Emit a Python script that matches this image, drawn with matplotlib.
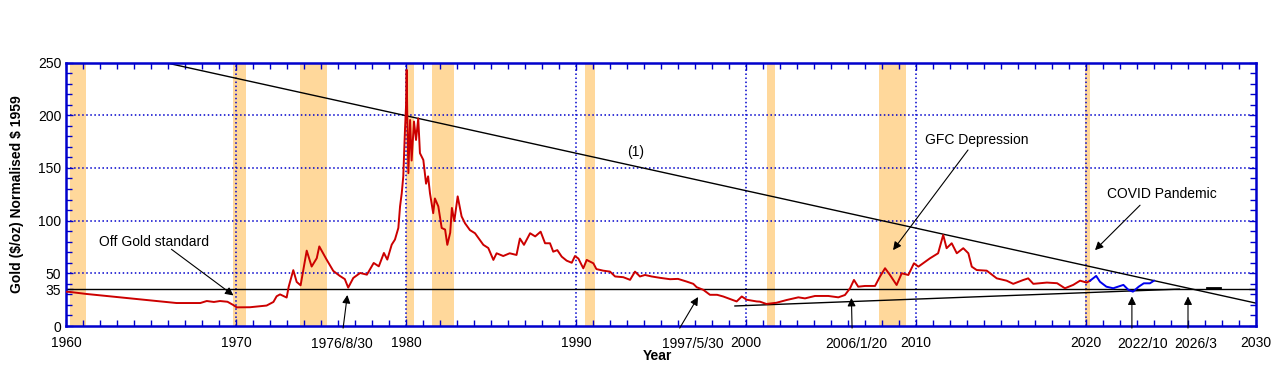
import numpy as np
import matplotlib
matplotlib.use('Agg')
import matplotlib.pyplot as plt

plt.rcParams['font.family'] = ['Liberation Sans', 'DejaVu Sans']

# gold price, normalised to 1959 dollars
red_years = [1960.0, 1960.24, 1961.2, 1963.57, 1966.5, 1967.9, 1968.28, 1968.7, 1969.06, 1969.5,
             1969.84, 1970.04, 1970.82, 1971.8, 1972.2, 1972.39, 1972.59, 1972.98, 1973.1, 1973.37,
             1973.57, 1973.8, 1974.16, 1974.45, 1974.75, 1974.9, 1975.33, 1975.72, 1976.1, 1976.4,
             1976.6, 1976.9, 1977.3, 1977.7, 1978.1, 1978.4, 1978.7, 1978.9, 1979.16, 1979.35,
             1979.55, 1979.65, 1979.75, 1979.84, 1979.94, 1980.0, 1980.04, 1980.07, 1980.14, 1980.24,
             1980.33, 1980.47, 1980.59, 1980.72, 1980.82, 1981.02, 1981.18, 1981.3, 1981.41, 1981.6,
             1981.7, 1981.9, 1982.1, 1982.3, 1982.43, 1982.6, 1982.7, 1982.84, 1983.04, 1983.27,
             1983.47, 1983.76, 1984.06, 1984.55, 1984.84, 1985.14, 1985.33, 1985.72, 1986.1, 1986.5,
             1986.7, 1986.94, 1987.3, 1987.6, 1987.92, 1988.18, 1988.47, 1988.66, 1988.9, 1989.16,
             1989.45, 1989.75, 1989.94, 1990.14, 1990.43, 1990.63, 1991.02, 1991.2, 1991.6, 1992.0,
             1992.3, 1992.78, 1993.18, 1993.47, 1993.76, 1994.06, 1994.45, 1994.94, 1995.53, 1996.0,
             1996.5, 1996.9, 1997.1, 1997.49, 1997.88, 1998.3, 1998.66, 1999.45, 1999.75, 2000.04,
             2000.63, 2000.82, 2001.2, 2001.8, 2002.4, 2003.08, 2003.47, 2004.06, 2004.84, 2005.43,
             2005.82, 2006.12, 2006.35, 2006.6, 2007.0, 2007.59, 2007.88, 2008.18, 2008.47, 2008.86,
             2009.16, 2009.55, 2009.88, 2010.14, 2010.82, 2011.3, 2011.6, 2011.8, 2012.1, 2012.4,
             2012.78, 2013.08, 2013.28, 2013.57, 2014.16, 2014.75, 2015.33, 2015.72, 2016.3, 2016.6,
             2016.9, 2017.7, 2018.3, 2018.76, 2019.25, 2019.65, 2020.04, 2020.24]
red_values = [32.5, 32.3, 30.4, 26.6, 21.8, 21.8, 23.7, 22.8, 23.7, 23.0,
              19.9, 17.7, 17.8, 19.4, 22.8, 28.2, 30.0, 27.0, 37.3, 53.0,
              41.8, 38.6, 71.5, 56.4, 64.3, 75.5, 63.0, 52.3, 47.6, 44.5,
              36.4, 45.6, 50.3, 48.7, 59.8, 56.6, 69.3, 63.0, 77.2, 82.0,
              93.0, 113.5, 126.0, 142.0, 186.0, 208.0, 243.0, 205.0, 145.0, 195.5,
              157.0, 194.0, 176.5, 197.0, 164.0, 157.5, 135.0, 142.0, 126.0, 107.0,
              121.0, 113.5, 93.0, 91.5, 77.0, 88.5, 112.0, 99.5, 123.0, 104.0,
              97.5, 91.0, 88.0, 77.0, 74.0, 62.7, 69.0, 66.4, 69.0, 67.4,
              83.0, 77.0, 88.0, 85.0, 89.5, 78.5, 78.5, 70.5, 72.0, 65.8,
              62.0, 60.0, 66.4, 64.0, 54.7, 62.7, 59.5, 54.0, 52.5, 51.6,
              47.0, 46.3, 43.8, 51.6, 47.0, 48.4, 47.0, 45.7, 44.4, 44.7,
              42.2, 40.0, 36.8, 34.3, 29.6, 29.6, 28.0, 23.3, 28.0, 24.9,
              23.3, 23.1, 20.9, 22.1, 24.7, 27.2, 26.2, 28.5, 28.5, 27.2,
              29.4, 35.8, 43.7, 37.3, 38.0, 38.0, 46.9, 54.8, 48.4, 38.9,
              50.0, 48.4, 59.5, 56.3, 64.2, 69.0, 86.4, 73.8, 78.5, 69.0,
              73.8, 69.0, 56.3, 53.1, 52.5, 45.2, 43.0, 40.0, 43.6, 45.2,
              40.0, 41.2, 40.6, 35.8, 39.0, 43.0, 41.2, 43.0]
blue_years = [2020.24, 2020.6, 2020.82, 2021.2, 2021.6, 2022.2, 2022.5, 2022.76, 2023.1, 2023.4,
              2023.76, 2024.0]
blue_values = [43.0, 47.5, 42.0, 37.3, 35.8, 39.0, 34.2, 32.6, 37.3, 40.5,
               40.5, 43.0]

# recession bands (start, end)
recessions = [(1960.25, 1961.2), (1969.8, 1970.6), (1973.75, 1975.35), (1980.0, 1980.45),
              (1981.5, 1982.8), (1990.55, 1991.1), (2001.25, 2001.7), (2007.8, 2009.4),
              (2019.95, 2020.25)]

# trend lines
line1_x = [1965.8, 2030.0]
line1_y = [250.0, 21.7]
lower_x = [1999.35, 2025.5]
lower_y = [19.0, 35.0]
stub_x = [2027.1, 2027.9]
stub_y = [35.6, 35.6]
floor_level = 35

# annotations: text, text pos, arrow tail, arrow head
notes = [
    ('Off Gold standard', (1965.2, 80), (1966.2, 72.8), (1969.85, 29.0)),
    ('GFC Depression', (2013.6, 176.5), (2013.06, 167), (2008.65, 72)),
    ('COVID Pandemic', (2024.45, 125), (2023.18, 114.6), (2020.53, 72)),
]
date_labels = ['1976/8/30', '1997/5/30', '2006/1/20', '2022/10', '2026/3']
date_text_x = [1976.2, 1996.9, 2006.47, 2023.3, 2026.45]
date_arrow_x = [(1976.3, 1976.55), (1996.1, 1997.18), (2006.24, 2006.2), (2022.7, 2022.7),
                (2026.0, 2026.0)]
date_arrow_y = [29.4, 27.5, 26.6, 28.0, 28.0]

year_ticks = [1960, 1970, 1980, 1990, 2000, 2010, 2020, 2030]
value_ticks = [0, 35, 50, 100, 150, 200, 250]

grid_blue = '#0000CC'
band_col = '#FFD89B'

fig = plt.figure(figsize=(12.76, 3.69), dpi=100)
ax_h = 263.5
ax = fig.add_axes([66 / 1276, 43 / 369, 1190 / 1276, ax_h / 369])

for a, b in recessions:
    ax.axvspan(a, b, color=band_col, lw=0, zorder=0)

for v in [50, 100, 150, 200, 250]:
    ax.axhline(v, color=grid_blue, ls=':', lw=1.1, zorder=1)
for yr in [1970, 1980, 1990, 2000, 2010, 2020]:
    ax.axvline(yr, color=grid_blue, ls=':', lw=1.1, zorder=1)

ax.axhline(floor_level, color='black', lw=1.0, zorder=2)
ax.plot(line1_x, line1_y, color='black', lw=1.0, zorder=2)
ax.plot(lower_x, lower_y, color='black', lw=1.0, zorder=2)
ax.plot(stub_x, stub_y, color='black', lw=2.0, zorder=2)

ax.plot(red_years, red_values, color='#CC0000', lw=1.4, zorder=3)
ax.plot(blue_years, blue_values, color='#0000EE', lw=1.4, zorder=3)

arrow = dict(arrowstyle='-|>', color='black', lw=0.8, mutation_scale=12, shrinkA=0, shrinkB=0)
for txt, tpos, tail, head in notes:
    ax.text(tpos[0], tpos[1], txt, ha='center', va='center', fontsize=10)
    ax.annotate('', xy=head, xytext=tail, arrowprops=arrow)
ax.text(1993.5, 165, '(1)', ha='center', va='center', fontsize=10)

# labels under the axis sit on the same baseline as the year ticks
xtr = ax.get_xaxis_transform()
base = -22 / ax_h
for lab, tx, (x0, x1), hy in zip(date_labels, date_text_x, date_arrow_x, date_arrow_y):
    ax.text(tx, base, lab, transform=xtr, ha='center', va='baseline', fontsize=10)
    ax.annotate('', xy=(x1, hy), xytext=(x0, -2), arrowprops=arrow, annotation_clip=False)

ax.set_xlim(1960, 2030)
ax.set_ylim(0, 250)
ax.set_xticks(year_ticks)
ax.set_xticks(np.arange(1960, 2031, 1), minor=True)
ax.set_yticks(value_ticks)
ax.set_yticks(np.arange(0, 251, 10), minor=True)
ax.tick_params(which='both', direction='in', colors=grid_blue, top=True, right=True,
               labelcolor='black', labelsize=10)
ax.tick_params(which='major', length=5, width=1)
ax.tick_params(which='minor', length=4, width=1)
ax.tick_params(axis='x', which='major', pad=7)
for s in ax.spines.values():
    s.set_color(grid_blue)
    s.set_linewidth(1.8)

ax.text(0.497, -34 / ax_h, 'Year', transform=ax.transAxes, ha='center', va='baseline',
        fontsize=10, fontweight='bold')
ax.set_ylabel('Gold (\\$/oz) Normalised \\$ 1959', fontsize=10, fontweight='bold', labelpad=10)

fig.savefig('out.png', dpi=100)
